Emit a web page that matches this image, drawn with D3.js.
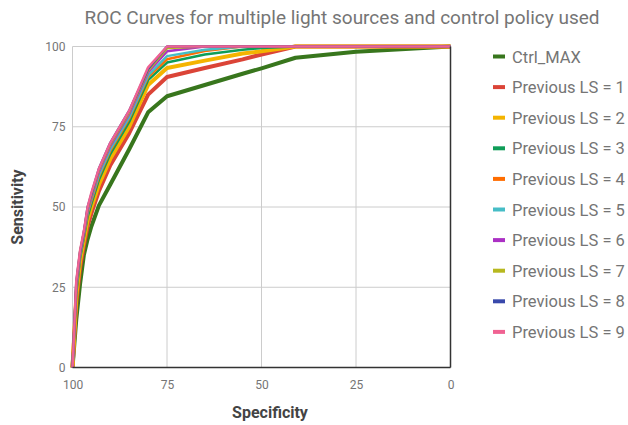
<!DOCTYPE html>
<html>
<head>
<meta charset="utf-8">
<script src="https://cdn.jsdelivr.net/npm/d3@7"></script>
<style>
  body { margin: 0; background: #fff; }
  text { font-family: Roboto, "Noto Sans", sans-serif; }
</style>
</head>
<body>
<div id="chart"></div>
<script>
// specificity values shared by every curve
var specificity = [100, 99, 98, 97, 96, 95, 93, 90, 85, 80, 75, 65, 55, 50, 41, 25, 0];

var seriesNames = ["Ctrl_MAX", "Previous LS = 1", "Previous LS = 2", "Previous LS = 3",
  "Previous LS = 4", "Previous LS = 5", "Previous LS = 6", "Previous LS = 7",
  "Previous LS = 8", "Previous LS = 9"];

var ctrlMax = [0, 15, 26, 35, 40, 44, 50.5, 57, 68, 79.5, 84.5, 88, 91.5, 93.2, 96.5, 98.4, 100];
var ls1 = [0, 20, 31, 38, 44, 48, 55, 63, 73, 85, 90.5, 93.3, 96, 97.5, 100, 100, 100];
var ls2 = [0, 22, 33, 39.5, 46, 50, 57, 65, 75, 88, 93.3, 95.6, 97.8, 98.5, 100, 100, 100];
var ls3 = [0, 23, 34, 40.5, 47, 51, 58.5, 66.5, 76.5, 89.5, 95, 97.5, 99, 99.5, 100, 100, 100];
var ls4 = [0, 24, 35, 41, 48, 52, 59.5, 67.5, 77.5, 90.5, 96, 98.6, 100, 100, 100, 100, 100];
var ls5 = [0, 25, 35, 41.5, 48.5, 52.5, 60, 68, 78, 91, 97, 99, 100, 100, 100, 100, 100];
var ls6 = [0, 25.5, 35.5, 42, 49, 53, 61, 69, 79, 92, 98.5, 100, 100, 100, 100, 100, 100];
var ls7 = [0, 26, 36, 42, 49.5, 53.5, 61.5, 69.5, 79.5, 92.5, 99.5, 100, 100, 100, 100, 100, 100];
var ls8 = [0, 26.5, 36, 42, 50, 54, 62, 70, 80, 93, 100, 100, 100, 100, 100, 100, 100];
var ls9 = [0, 27, 36.5, 42.5, 50, 54.5, 62, 70, 80, 93.5, 100, 100, 100, 100, 100, 100, 100];

var sensitivity = [ctrlMax, ls1, ls2, ls3, ls4, ls5, ls6, ls7, ls8, ls9];
var colors = ["#38761d", "#db4437", "#f4b400", "#0f9d58", "#ff6d00", "#46bdc6",
  "#ab30c4", "#b7b81f", "#3949ab", "#f06292"];
var widths = [4, 4, 4, 2.5, 2.5, 2.5, 2.5, 2.5, 2.5, 2.5];
var tickValues = [100, 75, 50, 25, 0];

var W = 628, H = 425;
var svg = d3.select("#chart").append("svg")
  .attr("width", W).attr("height", H);

var x = d3.scaleLinear().domain([100, 0]).range([72.5, 450.5]);
var y = d3.scaleLinear().domain([0, 100]).range([367.5, 46.5]);

// gridlines
var grid = svg.append("g");
grid.selectAll(".gx").data(tickValues).enter().append("line")
  .attr("x1", d => x(d)).attr("x2", d => x(d))
  .attr("y1", y(0)).attr("y2", y(100))
  .attr("stroke", "#cccccc").attr("stroke-width", 1);
grid.selectAll(".gy").data(tickValues).enter().append("line")
  .attr("x1", x(100)).attr("x2", x(0))
  .attr("y1", d => y(d)).attr("y2", d => y(d))
  .attr("stroke", "#cccccc").attr("stroke-width", 1);

// curves
var line = d3.line()
  .x((d, i) => x(specificity[i]))
  .y(d => y(d));

svg.append("g").selectAll("path").data(sensitivity).enter().append("path")
  .attr("d", line)
  .attr("fill", "none")
  .attr("stroke", (d, i) => colors[i])
  .attr("stroke-width", (d, i) => widths[i])
  .attr("stroke-linejoin", "round");

// baseline (sensitivity 0) and zero line (specificity 0)
svg.append("line").attr("x1", x(100)).attr("x2", x(0))
  .attr("y1", y(0)).attr("y2", y(0)).attr("stroke", "#333").attr("stroke-width", 1.5);
svg.append("line").attr("x1", x(0)).attr("x2", x(0))
  .attr("y1", y(0)).attr("y2", y(100)).attr("stroke", "#333").attr("stroke-width", 1.5);

// tick labels
var xAxis = svg.append("g").attr("transform", "translate(0," + y(0) + ")")
  .call(d3.axisBottom(x).tickValues(tickValues).tickSize(0).tickPadding(13));
var yAxis = svg.append("g").attr("transform", "translate(" + x(100) + ",0)")
  .call(d3.axisLeft(y).tickValues(tickValues).tickSize(0).tickPadding(7));
[xAxis, yAxis].forEach(function(a) {
  a.select(".domain").remove();
  a.selectAll("text").attr("fill", "#757575").style("font-size", "12px")
    .style("font-family", "Roboto, sans-serif");
});

// title
svg.append("text").attr("x", 342).attr("y", 24)
  .attr("text-anchor", "middle").attr("fill", "#757575")
  .style("font-size", "19px")
  .text("ROC Curves for multiple light sources and control policy used");

// axis titles
svg.append("text").attr("x", 270).attr("y", 418)
  .attr("text-anchor", "middle").attr("fill", "#444")
  .style("font-size", "16px").style("font-weight", "bold")
  .text("Specificity");
svg.append("text")
  .attr("transform", "translate(23,207) rotate(-90)")
  .attr("text-anchor", "middle").attr("fill", "#444")
  .style("font-size", "16px").style("font-weight", "bold")
  .text("Sensitivity");

// legend
var legend = svg.append("g").selectAll("g").data(seriesNames).enter().append("g")
  .attr("transform", (d, i) => "translate(493," + (56.5 + i * 30.6) + ")");
legend.append("line").attr("x1", 0).attr("x2", 12).attr("y1", 0).attr("y2", 0)
  .attr("stroke", (d, i) => colors[i]).attr("stroke-width", 4);
legend.append("text").attr("x", 19).attr("y", 6)
  .attr("fill", "#757575").style("font-size", "16.5px")
  .text(d => d);
</script>
</body>
</html>
